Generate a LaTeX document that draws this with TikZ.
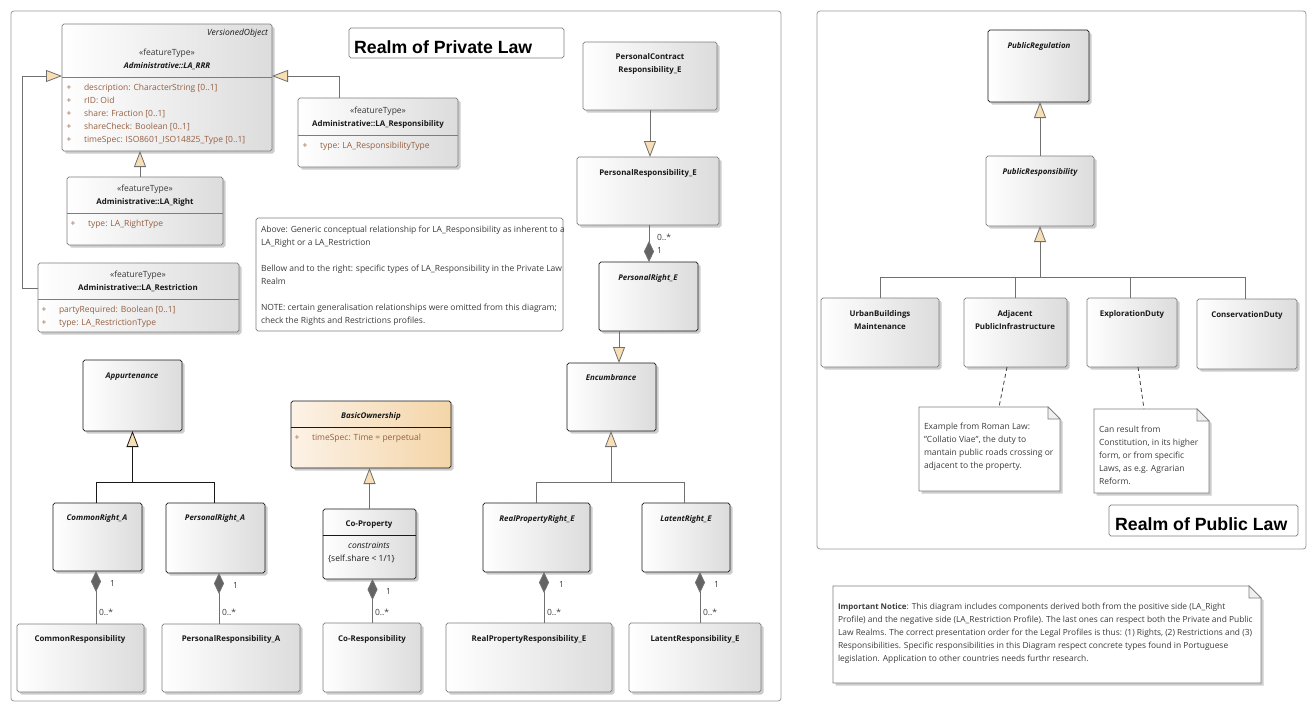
\documentclass[tikz,border=0pt]{standalone}
\usepackage{fontspec}
\setmainfont{Open Sans}
\newfontfamily\titlefont{Liberation Sans}
\usetikzlibrary{arrows.meta,shadows}
\definecolor{lcol}{RGB}{112,112,112}
\definecolor{bcol}{RGB}{125,125,125}
\definecolor{kcol}{RGB}{25,25,25}
\definecolor{gshade}{RGB}{220,220,220}
\definecolor{tri}{RGB}{247,222,180}
\definecolor{dia}{RGB}{100,100,100}
\definecolor{attr}{RGB}{150,95,65}
\definecolor{ntxt}{RGB}{60,60,60}
\definecolor{stxt}{RGB}{55,55,55}
\definecolor{ocl}{RGB}{252,242,230}
\definecolor{ocr}{RGB}{244,213,168}
\newcommand\fr{\fontsize{8.5}{13}\selectfont}
\newcommand\fn{\fontsize{8.4}{13}\selectfont}
\newcommand\fb{\fontsize{7.9}{13}\selectfont\bfseries}
\newcounter{tn}
\newcommand\T[3][]{\stepcounter{tn}\node[txt,#1] (t\arabic{tn}) at (#2) {#3};}
\newcommand\ubox[6]{\node[#1,anchor=north west,minimum width={(#5-#3)*1pt},minimum height={(#6-#4)*1pt}] (#2) at (#3,#4) {};}
\newcommand\notepath[2]{\path[#2] (#1.north west) -- ([xshift=-12pt]#1.north east) -- ([yshift=-12pt]#1.north east) -- (#1.south east) -- (#1.south west) -- cycle;}
\newcommand\drawnote[1]{%
  \notepath{#1}{fill=black,opacity=.2,transform canvas={shift={(2.5pt,-2.5pt)}}}
  \notepath{#1}{draw=bcol,line width=0.7pt,fill=white}
  \path[draw=bcol,line width=0.7pt,fill=gray!12] ([xshift=-12pt]#1.north east) -- ([xshift=-12pt,yshift=-12pt]#1.north east) -- ([yshift=-12pt]#1.north east) -- cycle;}
\tikzset{
  cls/.style={draw=bcol, line width=0.7pt, rounded corners=1.8pt, left color=white, right color=gshade, inner sep=0pt, outer sep=0pt,
    drop shadow={shadow xshift=2.5pt, shadow yshift=-2.5pt, fill=black, opacity=0.2}},
  abs/.style={cls, draw=kcol},
  orng/.style={abs, left color=ocl, right color=ocr},
  plainbox/.style={draw=bcol, line width=0.7pt, rounded corners=1.8pt, fill=white, inner sep=0pt, outer sep=0pt},
  realmframe/.style={draw=gray!80, line width=0.8pt, rounded corners=3pt, inner sep=0pt, outer sep=0pt},
  notebox/.style={inner sep=0pt, outer sep=0pt},
  txt/.style={inner sep=0pt, outer sep=0pt, text=kcol, font=\fr, anchor=mid},
  sttx/.style={text=stxt},
  nmtx/.style={font=\fb},
  nmbi/.style={font={\fb\itshape}},
  ittx/.style={font={\fr\itshape}},
  pltx/.style={text=attr},
  attx/.style={text=attr, anchor=mid west},
  nttx/.style={text=ntxt, anchor=mid west},
  ntsm/.style={text=ntxt, anchor=mid west, font=\fn},
  labtx/.style={text=ntxt, anchor=mid west},
  ttl/.style={inner sep=0pt, anchor=base west, text=black, font={\titlefont\bfseries\fontsize{17.7}{20}\selectfont}},
  sepg/.style={draw=bcol, line width=0.7pt},
  sepk/.style={draw=kcol, line width=0.7pt},
  gen/.style={draw=lcol, line width=0.8pt, -{Triangle[length=16pt,width=12pt,fill=tri]}},
  genk/.style={draw=kcol, line width=0.8pt, -{Triangle[length=16pt,width=12pt,fill=tri]}},
  gl/.style={draw=lcol, line width=0.8pt},
  glk/.style={draw=kcol, line width=0.8pt},
  comp/.style={draw=lcol, line width=0.8pt, {Diamond[length=21pt,width=10pt,fill=dia]}-},
  anch/.style={draw=kcol!85, line width=0.8pt, dash pattern=on 4pt off 3pt}
}
\begin{document}
\begin{tikzpicture}[x=1pt,y=-1pt]
\useasboundingbox[fill=white] (0,0) rectangle (1316,712);

% ---------- frames ----------
\ubox{realmframe}{pframe}{11}{11}{781}{701}
\ubox{realmframe}{uframe}{817}{11}{1306}{549}

% ---------- titles ----------
\ubox{plainbox}{ptitle}{349}{28}{564}{58}
\node[ttl] (ptitletext) at (354,53) {Realm of Private Law};
\ubox{plainbox}{utitle}{1109}{505}{1298}{536}
\node[ttl] (utitletext) at (1115,530) {Realm of Public Law};

% ---------- LA_RRR ----------
\ubox{cls}{rrr}{62}{24}{272}{151}
\draw[sepg] (rrr.west |- 0,77) -- (rrr.east |- 0,77);
\T[ittx,anchor=mid east]{268,33}{VersionedObject}
\T[sttx]{167,53}{«featureType»}
\T[nmbi]{167,66}{Administrative::LA\_RRR}
\T[pltx]{69,88}{+}\T[attx]{84,88}{description: CharacterString [0..1]}
\T[pltx]{69,101}{+}\T[attx]{84,101}{rID: Oid}
\T[pltx]{69,114}{+}\T[attx]{84,114}{share: Fraction [0..1]}
\T[pltx]{69,127}{+}\T[attx]{84,127}{shareCheck: Boolean [0..1]}
\T[pltx]{69,140}{+}\T[attx]{84,140}{timeSpec: ISO8601\_ISO14825\_Type [0..1]}

% ---------- LA_Responsibility ----------
\ubox{cls}{resp}{298}{98}{458}{167}
\draw[sepg] (resp.west |- 0,135) -- (resp.east |- 0,135);
\T[sttx]{378,111}{«featureType»}
\T[nmtx]{378,124}{Administrative::LA\_Responsibility}
\T[pltx]{305,146}{+}\T[attx]{320,146}{type: LA\_ResponsibilityType}

% ---------- LA_Right ----------
\ubox{cls}{lar}{67}{177}{223}{245}
\draw[sepg] (lar.west |- 0,213) -- (lar.east |- 0,213);
\T[sttx]{145,189}{«featureType»}
\T[nmtx]{145,202}{Administrative::LA\_Right}
\T[pltx]{73,224}{+}\T[attx]{88,224}{type: LA\_RightType}

% ---------- LA_Restriction ----------
\ubox{cls}{lrs}{38}{263}{239}{332}
\draw[sepg] (lrs.west |- 0,299) -- (lrs.east |- 0,299);
\T[sttx]{138,275}{«featureType»}
\T[nmtx]{138,288}{Administrative::LA\_Restriction}
\T[pltx]{44,310}{+}\T[attx]{59,310}{partyRequired: Boolean [0..1]}
\T[pltx]{44,323}{+}\T[attx]{59,323}{type: LA\_RestrictionType}

% ---------- private note ----------
\ubox{plainbox}{pnote}{256}{218}{563}{331}
\T[nttx]{261,230}{Above: Generic conceptual relationship for LA\_Responsibility as inherent to a}
\T[nttx]{261,243}{LA\_Right or a LA\_Restriction}
\T[nttx]{261,269}{Bellow and to the right: specific types of LA\_Responsibility in the Private Law}
\T[nttx]{261,282}{Realm}
\T[nttx]{261,308}{NOTE: certain generalisation relationships were omitted from this diagram;}
\T[nttx]{261,321}{check the Rights and Restrictions profiles.}

% ---------- E chain ----------
\ubox{cls}{pcr}{583}{42}{717}{110}
\T[nmtx]{650,57}{PersonalContract}
\T[nmtx]{650,70}{Responsibility\_E}
\ubox{cls}{pre}{577}{157}{719}{225}
\T[nmtx]{648,173}{PersonalResponsibility\_E}
\ubox{abs}{pri}{599}{262}{698}{331}
\T[nmbi]{648,278}{PersonalRight\_E}
\ubox{abs}{enc}{567}{363}{656}{431}
\T[nmbi]{611,378}{Encumbrance}
\ubox{abs}{rpr}{483}{503}{590}{572}
\T[nmbi]{537,519}{RealPropertyRight\_E}
\ubox{abs}{ltr}{642}{503}{730}{572}
\T[nmbi]{686,519}{LatentRight\_E}
\ubox{cls}{rpre}{446}{623}{612}{692}
\T[nmtx]{529,639}{RealPropertyResponsibility\_E}
\ubox{cls}{ltre}{629}{623}{761}{692}
\T[nmtx]{695,639}{LatentResponsibility\_E}

% ---------- BasicOwnership ----------
\ubox{orng}{bo}{291}{401}{451}{468}
\draw[sepk] (bo.west |- 0,427) -- (bo.east |- 0,427);
\T[nmbi]{371,416}{BasicOwnership}
\T[pltx]{297,438}{+}\T[attx]{312,438}{timeSpec: Time = perpetual}
\ubox{abs}{cop}{323}{509}{416}{579}
\draw[sepk] (cop.west |- 0,535) -- (cop.east |- 0,535);
\T[nmtx]{369,524}{Co-Property}
\T[ittx]{369,546}{constraints}
\T[anchor=mid west]{328,559}{\{self.share < 1/1\}}
\ubox{cls}{cor}{323}{623}{421}{692}
\T[nmtx]{372,639}{Co-Responsibility}

% ---------- Appurtenance ----------
\ubox{abs}{app}{83}{360}{182}{431}
\T[nmbi]{132,376}{Appurtenance}
\ubox{abs}{cra}{53}{503}{142}{571}
\T[nmbi]{97,518}{CommonRight\_A}
\ubox{abs}{pra}{166}{503}{265}{573}
\T[nmbi]{215,518}{PersonalRight\_A}
\ubox{cls}{cre}{17}{624}{144}{692}
\T[nmtx]{80,639}{CommonResponsibility}
\ubox{cls}{prea}{162}{624}{300}{692}
\T[nmtx]{231,639}{PersonalResponsibility\_A}

% ---------- public ----------
\ubox{abs}{preg}{988}{30}{1089}{102}
\T[nmbi]{1039,46}{PublicRegulation}
\ubox{cls}{pres}{986}{156}{1094}{226}
\T[nmbi]{1040,172}{PublicResponsibility}
\ubox{cls}{ubm}{821}{298}{939}{367}
\T[nmtx]{880,314}{UrbanBuildings}
\T[nmtx]{880,327}{Maintenance}
\ubox{cls}{api}{964}{298}{1067}{367}
\T[nmtx]{1015,314}{Adjacent}
\T[nmtx]{1015,327}{PublicInfrastructure}
\ubox{cls}{exd}{1087}{298}{1177}{367}
\T[nmtx]{1132,314}{ExplorationDuty}
\ubox{cls}{cvd}{1197}{299}{1297}{369}
\T[nmtx]{1247,315}{ConservationDuty}

% ---------- notes ----------
\ubox{notebox}{n1}{919}{407}{1060}{491}
\drawnote{n1}
\T[nttx]{924,427}{Example from Roman Law:}
\T[nttx]{924,440}{"Collatio Viae", the duty to}
\T[nttx]{924,453}{mantain public roads crossing or}
\T[nttx]{924,466}{adjacent to the property.}
\ubox{notebox}{n2}{1094}{409}{1209}{493}
\drawnote{n2}
\T[nttx]{1099,430}{Can result from}
\T[nttx]{1099,443}{Constitution, in its higher}
\T[nttx]{1099,456}{form, or from specific}
\T[nttx]{1099,469}{Laws, as e.g. Agrarian}
\T[nttx]{1099,482}{Reform.}
\ubox{notebox}{n3}{833}{586}{1261}{683}
\drawnote{n3}
\T[ntsm]{838,607}{{\fb Important Notice}: This diagram includes components derived both from the positive side (LA\_Right}
\T[ntsm]{838,620}{Profile) and the negative side (LA\_Restriction Profile). The last ones can respect both the Private and Public}
\T[ntsm]{838,633}{Law Realms. The correct presentation order for the Legal Profiles is thus: (1) Rights, (2) Restrictions and (3)}
\T[ntsm]{838,646}{Responsibilities. Specific responsibilities in this Diagram respect concrete types found in Portuguese}
\T[ntsm]{838,659}{legislation. Application to other countries needs furthr research.}

% ---------- connectors: LA ----------
\coordinate (a1) at ([xshift=-5pt]lar.north);
\draw[gen] (a1) -- (a1 |- rrr.south);
\draw[gen] ([xshift=41pt]resp.north west) |- ([yshift=11.5pt]rrr.east);
\draw[gen] ([yshift=9.5pt]lrs.west) -- ++(-16,0) |- ([yshift=11.5pt]rrr.west);

% ---------- connectors: E ----------
\draw[gen] (pcr.south) -- (pcr.south |- pre.north);
\coordinate (c0) at ([xshift=0.5pt]pri.north);
\draw[comp] (c0) -- (c0 |- pre.south);
\node[txt,labtx] (m0a) at (657,238) {0..*};
\node[txt,labtx] (m0b) at (657,251) {1};
\coordinate (a2) at ([xshift=-29.5pt]pri.south);
\draw[gen] (a2) -- (a2 |- enc.north);
\coordinate (ej) at (611,482);
\draw[gl] ([xshift=-0.5pt]rpr.north) |- (ej);
\draw[gl] ([xshift=-2pt]ltr.north) |- (ej);
\draw[gen] (ej) -- (ej |- enc.south);
\coordinate (c4) at ([xshift=7.5pt]rpr.south);
\draw[comp] (c4) -- (c4 |- rpre.north);
\node[txt,labtx] (m4a) at (559,585) {1};
\node[txt,labtx] (m4b) at (547,613) {0..*};
\coordinate (c5) at ([xshift=14pt]ltr.south);
\draw[comp] (c5) -- (c5 |- ltre.north);
\node[txt,labtx] (m5a) at (714,585) {1};
\node[txt,labtx] (m5b) at (703,613) {0..*};

% ---------- connectors: ownership ----------
\draw[gen] (cop.north) -- (cop.north |- bo.south);
\coordinate (c3) at ([xshift=3pt]cop.south);
\draw[comp] (c3) -- (c3 |- cor.north);
\node[txt,labtx] (m3a) at (386,592) {1};
\node[txt,labtx] (m3b) at (375,613) {0..*};

% ---------- connectors: Appurtenance ----------
\coordinate (aj) at (132.5,482);
\draw[glk] ([xshift=-1.5pt]cra.north) |- (aj);
\draw[glk] ([xshift=-1.5pt]pra.north) |- (aj);
\draw[genk] (aj) -- (aj |- app.south);
\coordinate (c1) at ([xshift=-1.5pt]cra.south);
\draw[comp] (c1) -- (c1 |- cre.north);
\node[txt,labtx] (m1a) at (110,584) {1};
\node[txt,labtx] (m1b) at (99,613) {0..*};
\coordinate (c2) at ([xshift=3.5pt]pra.south);
\draw[comp] (c2) -- (c2 |- prea.north);
\node[txt,labtx] (m2a) at (233,586) {1};
\node[txt,labtx] (m2b) at (222,613) {0..*};

% ---------- connectors: public ----------
\draw[gen] (pres.north) -- (pres.north |- preg.south);
\coordinate (pj) at (1040,277);
\draw[gl] (ubm.north) |- (pj);
\draw[gl] (api.north) |- (pj);
\draw[gl] ([xshift=-2pt]exd.north) |- (pj);
\draw[gl] ([xshift=-2pt]cvd.north) |- (pj);
\draw[gen] (pj) -- (pj |- pres.south);
\draw[anch] ([xshift=-8.5pt]api.south) -- ([xshift=9.5pt]n1.north);
\draw[anch] ([xshift=6pt]exd.south) -- ([xshift=-7.5pt]n2.north);
\end{tikzpicture}
\end{document}
